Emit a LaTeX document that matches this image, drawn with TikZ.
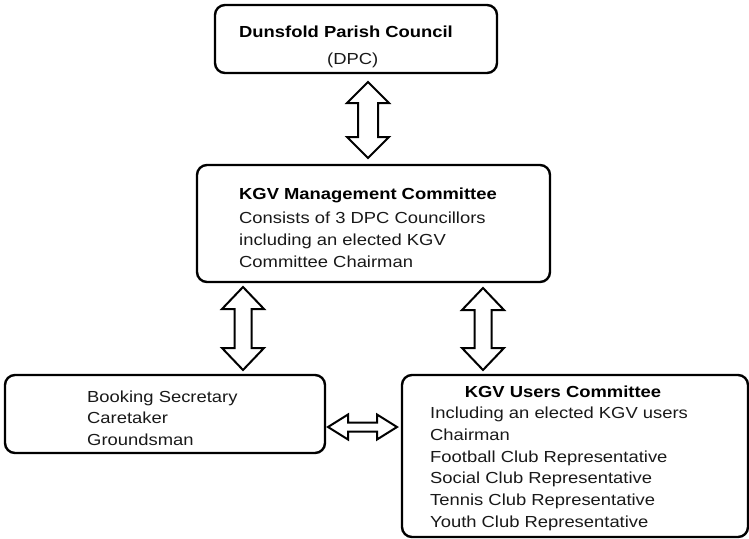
\documentclass[tikz,border=0pt]{standalone}
\usepackage{fontspec}
\setmainfont{Liberation Sans}[FakeStretch=1.15]
\begin{document}
\begin{tikzpicture}[x=1pt,y=-1pt,
  box/.style={draw=black, line width=2.4pt, rounded corners=10pt, fill=white, inner sep=0pt},
  txt/.style={inner sep=0pt, anchor=base west, font=\fontsize{16}{20}\selectfont, text=black!90},
  ttl/.style={inner sep=0pt, anchor=base west, font=\fontsize{16}{20}\selectfont\bfseries, text=black},
  blockarrow/.style={draw=black, line width=2pt, fill=white, line join=miter}]
\useasboundingbox (0,0) rectangle (749,538);
\fill[white] (0,0) rectangle (749,538);

% boxes
\node[box, minimum width=282pt, minimum height=68pt] (dpc) at (356,39) {};
\node[box, minimum width=353pt, minimum height=117pt] (mgmt) at (373.5,223.5) {};
\node[box, minimum width=320pt, minimum height=78pt] (staff) at (165,414) {};
\node[box, minimum width=346pt, minimum height=162pt] (users) at (575,456) {};

% texts
\node[ttl] (t1) at (239,37) {Dunsfold Parish Council};
\node[txt] (t2) at (327,64) {(DPC)};

\node[ttl] (m1) at (239,199) {KGV Management Committee};
\node[txt] (m2) at (239,223) {Consists of 3 DPC Councillors};
\node[txt] (m3) at (239,245) {including an elected KGV};
\node[txt] (m4) at (239,267) {Committee Chairman};

\node[txt] (s1) at (87,402) {Booking Secretary};
\node[txt] (s2) at (87,423) {Caretaker};
\node[txt] (s3) at (87,445) {Groundsman};

\node[ttl, anchor=base] (u0) at (563,397) {KGV Users Committee};
\node[txt] (u1) at (430,418) {Including an elected KGV users};
\node[txt] (u2) at (430,440) {Chairman};
\node[txt] (u3) at (430,462) {Football Club Representative};
\node[txt] (u4) at (430,483) {Social Club Representative};
\node[txt] (u5) at (430,505) {Tennis Club Representative};
\node[txt] (u6) at (430,527) {Youth Club Representative};

% vertical block double arrows: centre x, top, bottom, shaft half, head half, head length
\newcommand{\vblock}[6]{%
  \draw[blockarrow] (#1,#2) -- (#1+#5,#2+#6) -- (#1+#4,#2+#6) -- (#1+#4,#3-#6)
    -- (#1+#5,#3-#6) -- (#1,#3) -- (#1-#5,#3-#6) -- (#1-#4,#3-#6)
    -- (#1-#4,#2+#6) -- (#1-#5,#2+#6) -- cycle;}
\newcommand{\hblock}[6]{%
  \draw[blockarrow] (#2,#1) -- (#2+#6,#1-#5) -- (#2+#6,#1-#4) -- (#3-#6,#1-#4)
    -- (#3-#6,#1-#5) -- (#3,#1) -- (#3-#6,#1+#5) -- (#3-#6,#1+#4)
    -- (#2+#6,#1+#4) -- (#2+#6,#1+#5) -- cycle;}

\vblock{368}{82}{158}{10}{21}{21}
\vblock{243}{287}{370}{8.5}{21}{22}
\vblock{483}{288}{370}{8.5}{21}{22}
\hblock{427}{328}{397}{4.5}{12.5}{20}
\end{tikzpicture}
\end{document}
